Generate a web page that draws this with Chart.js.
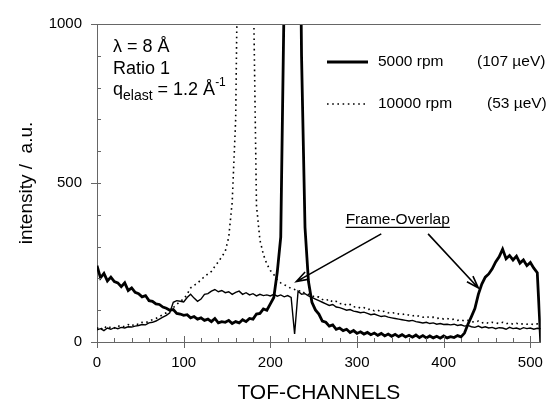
<!DOCTYPE html>
<html>
<head>
<meta charset="utf-8">
<script src="https://cdn.jsdelivr.net/npm/chart.js@4"></script>
<style>
  html, body { margin: 0; padding: 0; background: #fff; }
  canvas { display: block; }
</style>
</head>
<body>
<canvas id="tof-chart" width="555" height="410"></canvas>
<script>
// TOF channel grid, every 4th channel
const channels = [];
for (let c = 0; c <= 512; c += 4) channels.push(c);

// 5000 rpm (107 µeV), thick trace; one row = 16 channels x 4
const rpm5000 = [
  240, 202, 216, 192, 204, 190, 186, 174, 186, 162, 170, 156, 152, 142, 146, 130,
  128, 120, 118, 110, 106, 100, 102, 90, 88, 84, 86, 76, 80, 72, 76, 68,
  72, 64, 74, 60, 64, 62, 68, 58, 64, 60, 70, 64, 74, 72, 88, 90,
  104, 100, 120, 140, 220, 330, 1100, 2400, 3200, 3000, 2000, 900, 360, 190, 125, 101,
  88, 66, 62, 50, 54, 40, 44, 36, 40, 30, 36, 27, 32, 25, 30, 23,
  28, 21, 27, 19, 25, 18, 24, 17, 23, 16, 21, 15, 22, 14, 20, 13,
  19, 13, 18, 12, 19, 13, 17, 14, 20, 16, 28, 56, 80, 105, 150, 182,
  204, 214, 230, 252, 268, 292, 262, 272, 258, 270, 248, 258, 240, 250, 232, 218,
  0
];

// 10000 rpm (53 µeV), dotted trace
const rpm10000 = [
  45, 38, 50, 42, 48, 44, 52, 46, 50, 55, 50, 58, 55, 62, 60, 66,
  70, 74, 80, 86, 92, 100, 108, 118, 128, 135, 150, 170, 178, 185, 196, 205,
  214, 222, 238, 252, 268, 285, 330, 440, 700, 1600, 3500, 3800, 2500, 1200, 430, 320,
  275, 245, 225, 212, 195, 186, 180, 175, 168, 165, 160, 162, 152, 150, 146, 140,
  142, 134, 130, 135, 125, 128, 120, 122, 115, 118, 110, 112, 106, 108, 102, 104,
  98, 100, 95, 97, 92, 90, 93, 88, 86, 89, 84, 82, 85, 80, 78, 81,
  76, 78, 74, 76, 72, 74, 70, 72, 68, 70, 66, 68, 64, 62, 66, 60,
  63, 58, 62, 60, 58, 62, 57, 60, 56, 59, 55, 58, 56, 58, 54, 57,
  55
];

// frame-overlap trace, thin solid
const overlap = [
  38, 42, 36, 44, 40, 45, 42, 46, 44, 48, 47, 50, 52, 55, 54, 60,
  62, 66, 72, 78, 84, 92, 125, 130, 128, 126, 140, 150, 138, 128, 135, 150,
  152, 160, 165, 158, 162, 155, 158, 150, 156, 160, 150, 155, 148, 152, 145, 150,
  146, 148, 145, 150, 144, 148, 142, 146, 140, 25, 160, 150, 152, 145, 140, 135,
  130, 125, 120, 115, 118, 110, 108, 104, 100, 102, 97, 95, 92, 94, 90, 86,
  88, 84, 80, 82, 78, 76, 74, 72, 70, 68, 66, 68, 64, 62, 60, 62,
  58, 60, 56, 58, 55, 56, 54, 56, 52, 54, 50, 52, 48, 46, 50, 45,
  48, 44, 46, 42, 45, 44, 40, 46, 42, 44, 40, 45, 42, 44, 40, 43,
  42
];

const xTickStep = 100;
const yTickStep = 500;

const toPoints = vals => channels.map((c, i) => ({ x: c, y: vals[i] }));

const FONT = "'Liberation Sans', Arial, sans-serif";
Chart.defaults.font.family = FONT;
Chart.defaults.color = '#000';

// hand-drawn frame: inner minor ticks, crossing major ticks, top line
const frameTicks = {
  id: 'frameTicks',
  afterDraw(chart) {
    const { ctx, chartArea: a, scales: { x, y } } = chart;
    ctx.save();
    ctx.strokeStyle = '#666';
    ctx.lineWidth = 1;
    ctx.beginPath();
    ctx.moveTo(a.left, a.top + 0.5);
    ctx.lineTo(a.right, a.top + 0.5);
    for (let v = 0; v <= 500; v += 20) {
      const px = Math.round(x.getPixelForValue(v)) + 0.5;
      const major = v % 100 === 0;
      ctx.moveTo(px, a.bottom - (major ? 6 : 4));
      ctx.lineTo(px, a.bottom + (major ? 6 : 0));
    }
    for (let v = 0; v <= 1000; v += 100) {
      const py = Math.round(y.getPixelForValue(v)) + 0.5;
      const major = v % 500 === 0;
      ctx.moveTo(a.left - (major ? 6 : 0), py);
      ctx.lineTo(a.left + 4, py);
    }
    ctx.stroke();
    ctx.restore();
  }
};

function arrow(ctx, x0, y0, x1, y1) {
  const ang = Math.atan2(y1 - y0, x1 - x0);
  const len = 13, spread = 0.32;
  ctx.beginPath();
  ctx.moveTo(x0, y0);
  ctx.lineTo(x1, y1);
  ctx.moveTo(x1 - len * Math.cos(ang - spread), y1 - len * Math.sin(ang - spread));
  ctx.lineTo(x1, y1);
  ctx.lineTo(x1 - len * Math.cos(ang + spread), y1 - len * Math.sin(ang + spread));
  ctx.stroke();
}

// text block, legend and the frame-overlap arrows
const notes = {
  id: 'notes',
  afterDraw(chart) {
    const { ctx, chartArea: a, scales: { x, y } } = chart;
    ctx.save();
    ctx.fillStyle = '#000';
    ctx.strokeStyle = '#000';
    ctx.textBaseline = 'alphabetic';
    ctx.textAlign = 'left';

    const tx = a.left + 16;
    ctx.font = '18px ' + FONT;
    ctx.fillText('λ = 8 Å', tx, 52);
    ctx.fillText('Ratio 1', tx, 74);
    ctx.fillText('q', tx, 95);
    let cx = tx + ctx.measureText('q').width;
    ctx.font = '14px ' + FONT;
    ctx.fillText('elast', cx, 100);
    cx += ctx.measureText('elast').width;
    ctx.font = '18px ' + FONT;
    ctx.fillText(' = 1.2 Å', cx, 95);
    cx += ctx.measureText(' = 1.2 Å').width;
    ctx.font = '12px ' + FONT;
    ctx.fillText('-1', cx, 86);

    // legend
    const ds = chart.data.datasets;
    const rows = [
      { d: ds[0], y: 62, a: '5000 rpm', b: '(107 µeV)', bx: 477 },
      { d: ds[1], y: 104, a: '10000 rpm', b: '(53 µeV)', bx: 487 }
    ];
    ctx.font = '15.5px ' + FONT;
    ctx.textBaseline = 'middle';
    rows.forEach(r => {
      ctx.save();
      ctx.lineWidth = r.d.borderWidth;
      ctx.setLineDash(r.d.borderDash || []);
      ctx.beginPath();
      ctx.moveTo(327, r.y);
      ctx.lineTo(368, r.y);
      ctx.stroke();
      ctx.restore();
      ctx.fillText(r.a, 378, r.y);
      ctx.fillText(r.b, r.bx, r.y);
    });

    // frame-overlap label with arrows
    ctx.textBaseline = 'alphabetic';
    ctx.textAlign = 'center';
    const lx = x.getPixelForValue(347), ly = y.getPixelForValue(370);
    ctx.fillText('Frame-Overlap', lx, ly);
    const w = ctx.measureText('Frame-Overlap').width;
    ctx.lineWidth = 1.2;
    ctx.beginPath();
    ctx.moveTo(lx - w / 2, ly + 3);
    ctx.lineTo(lx + w / 2, ly + 3);
    ctx.stroke();
    ctx.lineWidth = 1.6;
    arrow(ctx, x.getPixelForValue(328), y.getPixelForValue(340),
               x.getPixelForValue(230), y.getPixelForValue(190));
    arrow(ctx, x.getPixelForValue(382), y.getPixelForValue(340),
               x.getPixelForValue(440), y.getPixelForValue(170));
    ctx.restore();
  }
};

new Chart(document.getElementById('tof-chart').getContext('2d'), {
  type: 'line',
  data: {
    datasets: [
      {
        label: '5000 rpm (107 µeV)',
        data: toPoints(rpm5000),
        borderColor: '#000',
        borderWidth: 2.8,
        pointRadius: 0,
        tension: 0
      },
      {
        label: '10000 rpm (53 µeV)',
        data: toPoints(rpm10000),
        borderColor: '#000',
        borderWidth: 1.6,
        borderDash: [1.6, 3.6],
        pointRadius: 0,
        tension: 0
      },
      {
        label: 'frame overlap',
        data: toPoints(overlap),
        borderColor: '#000',
        borderWidth: 1.4,
        pointRadius: 0,
        tension: 0
      }
    ]
  },
  options: {
    responsive: false,
    animation: false,
    devicePixelRatio: 1,
    layout: { padding: { top: 20, right: 6, left: 0, bottom: 0 } },
    plugins: { legend: { display: false }, tooltip: { enabled: false } },
    scales: {
      x: {
        type: 'linear',
        min: 0,
        max: 512,
        grid: { display: false, drawTicks: false },
        border: { display: true, color: '#666', width: 1 },
        ticks: { stepSize: xTickStep, includeBounds: false, padding: 12, font: { size: 15 } },
        title: { display: true, text: 'TOF-CHANNELS', font: { size: 21 }, padding: { top: 0, bottom: 4 } },
        afterFit(scale) { scale.height = 68; }
      },
      y: {
        min: 0,
        max: 1000,
        grid: { display: false, drawTicks: false },
        border: { display: true, color: '#666', width: 1 },
        ticks: { stepSize: yTickStep, padding: 15, font: { size: 15 }, callback: v => String(v) },
        title: { display: true, text: 'intensity /  a.u.', font: { size: 19 }, padding: { top: 15, bottom: 0 } },
        afterFit(scale) { scale.width = 97; }
      }
    }
  },
  plugins: [frameTicks, notes]
});
</script>
</body>
</html>
